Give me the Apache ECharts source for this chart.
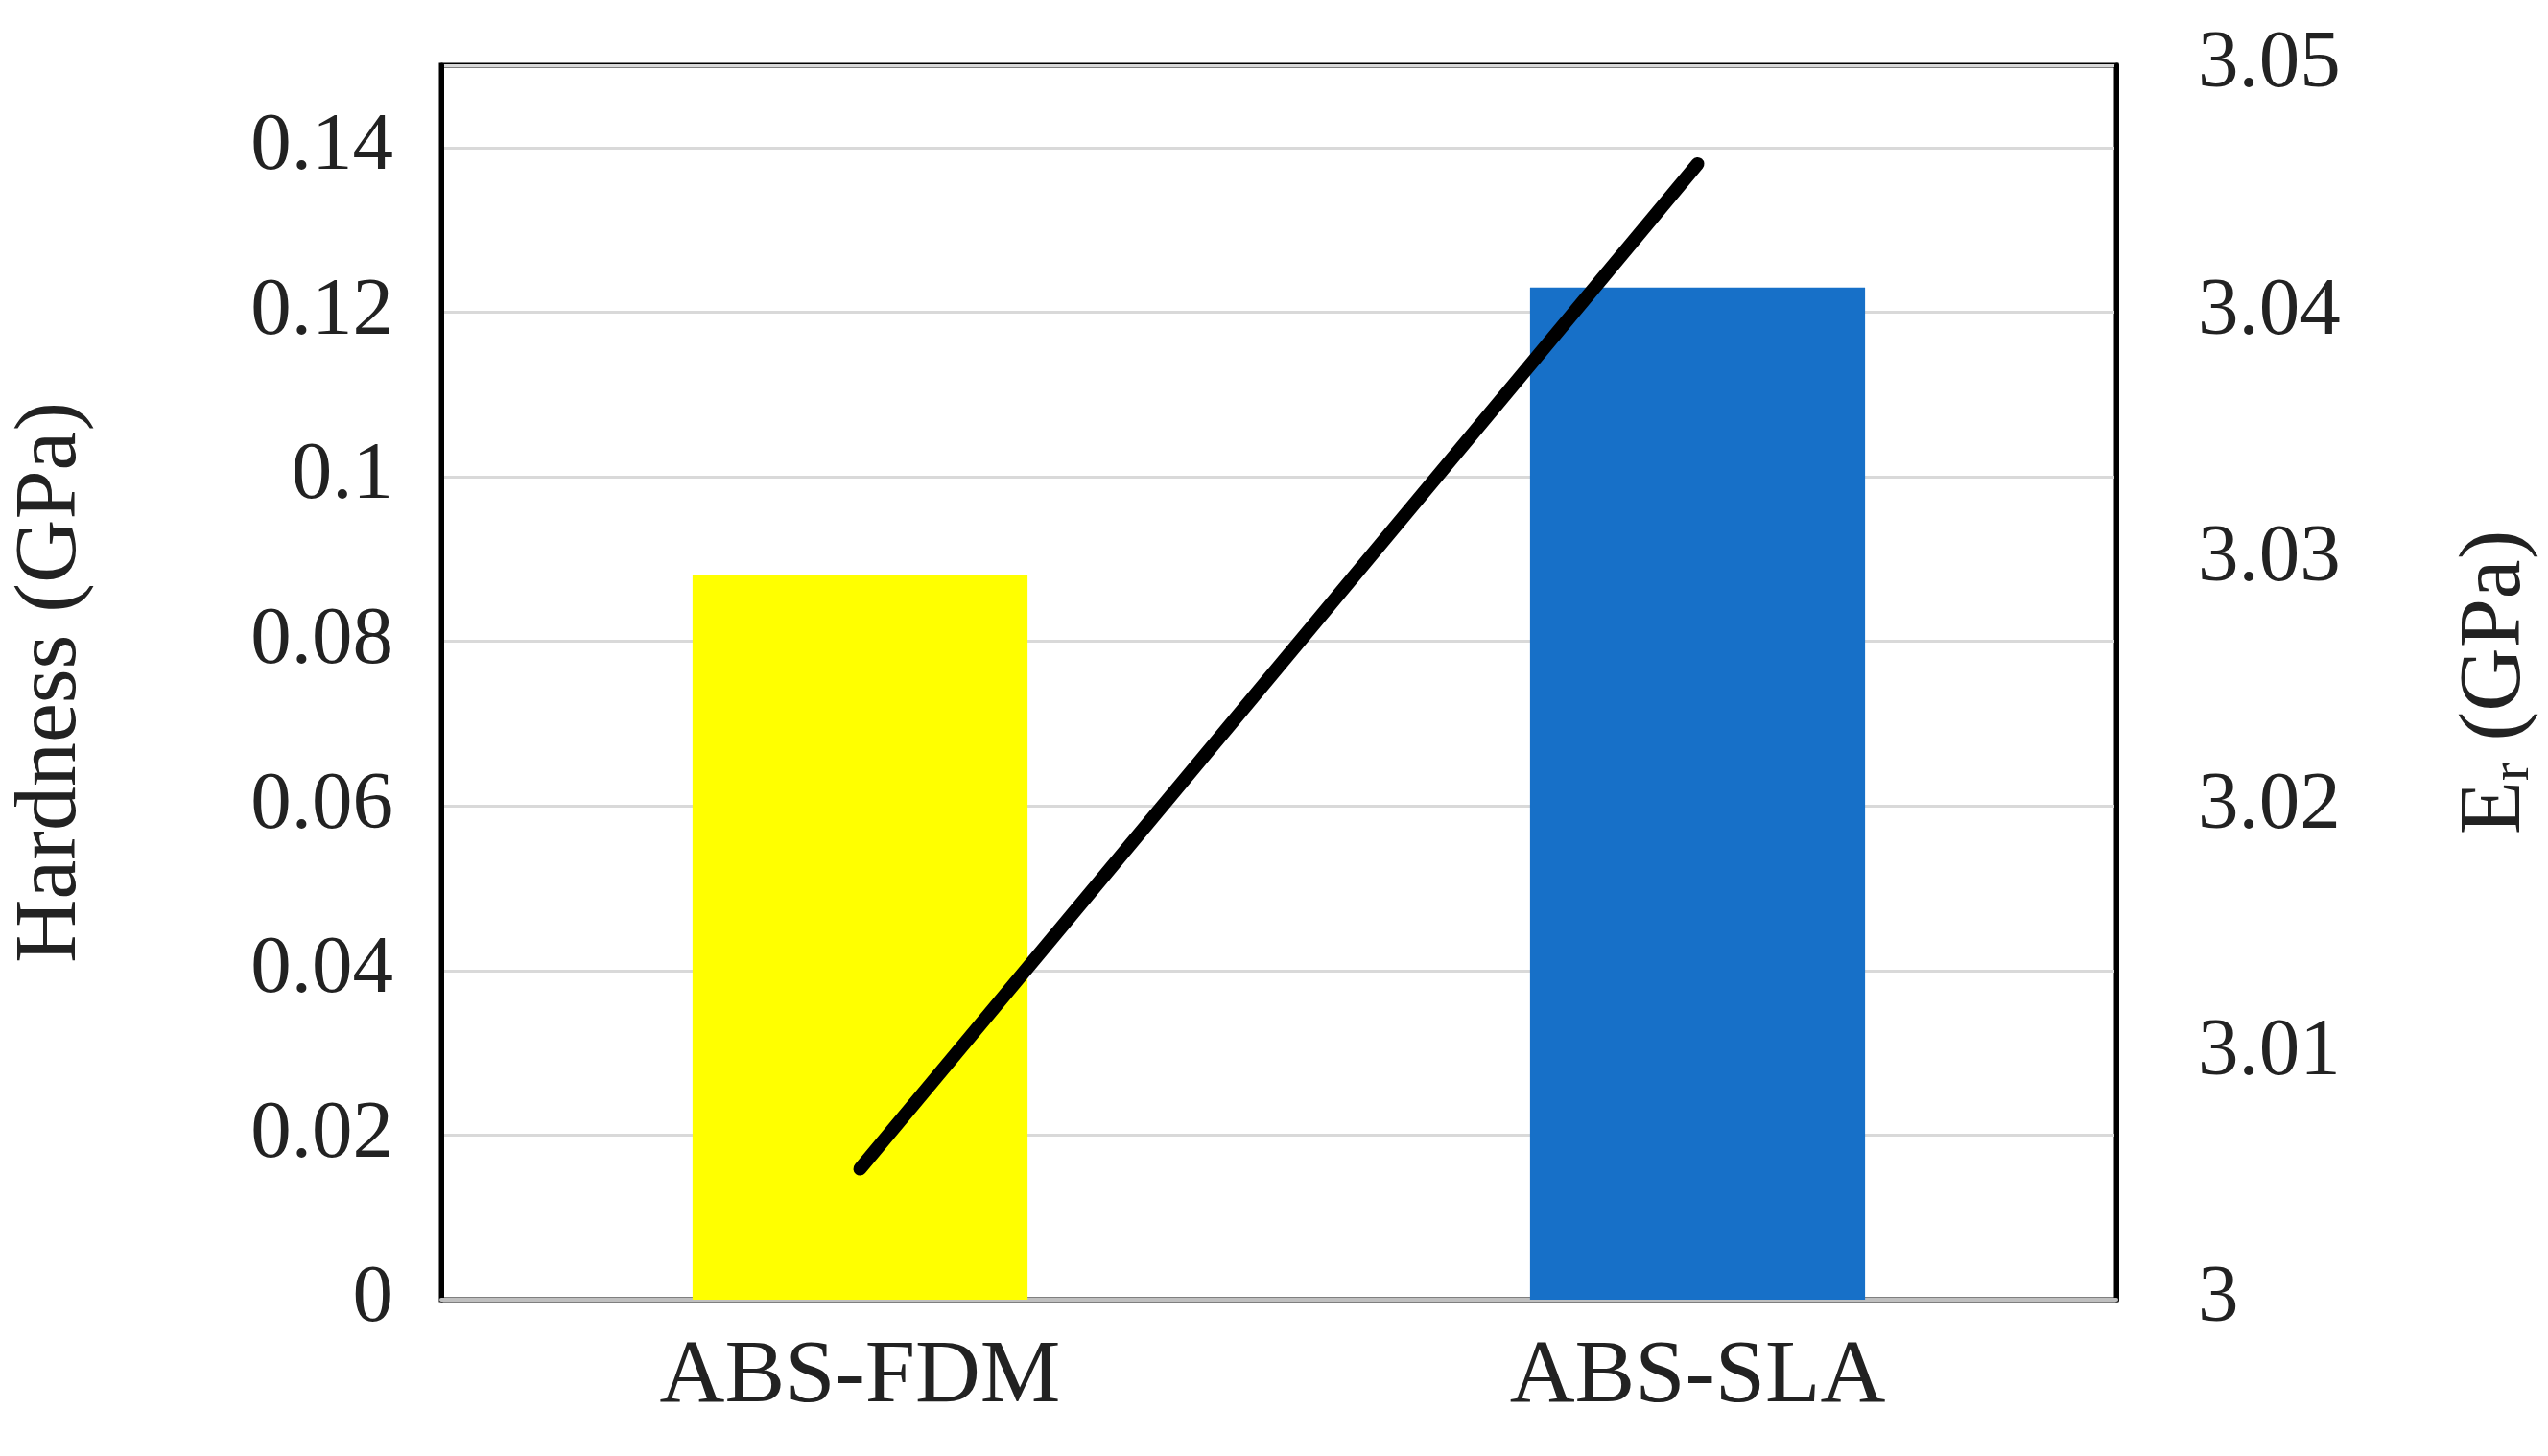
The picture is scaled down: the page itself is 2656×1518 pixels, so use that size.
<!DOCTYPE html>
<html lang="en">
<head>
 <meta charset="UTF-8">
 <title>Hardness and Er</title>
 <style>html,body{margin:0;padding:0;background:#fff;}</style>
</head>
<body>
 <div id="main" style="width:2656px;height:1518px;"></div>
 <script src="https://cdn.jsdelivr.net/npm/echarts@6/dist/echarts.min.js"></script>
 <script type="text/javascript">
var categories = ['ABS-FDM', 'ABS-SLA'];
var hardness = [0.088, 0.123];
var modulus = [3.0053, 3.046];

var font = 'Liberation Serif';
var myChart = echarts.init(document.getElementById('main'));

myChart.setOption({
    backgroundColor: '#fff',
    animation: false,
    grid: {
        left: 443, right: 413, top: 68, bottom: 163,
        show: true, borderColor: '#000', borderWidth: 5
    },
    xAxis: {
        type: 'category',
        data: categories,
        axisLine: { lineStyle: { color: '#bfbfbf', width: 4 } },
        axisTick: { show: false },
        axisLabel: { fontFamily: font, fontSize: 94, color: '#222', margin: 34 }
    },
    yAxis: [{
        type: 'value',
        min: 0, max: 0.15, interval: 0.02,
        name: 'Hardness (GPa)',
        nameLocation: 'middle',
        nameGap: 360,
        nameTextStyle: { fontFamily: font, fontSize: 92, color: '#222' },
        axisLine: { show: true, lineStyle: { color: '#000', width: 5 } },
        axisTick: { show: false },
        axisLabel: {
            fontFamily: font, fontSize: 85, color: '#222', margin: 50,
            showMaxLabel: false,
            formatter: function (v) { return v > 0.145 ? '' : String(+v.toFixed(2)); }
        },
        splitLine: { lineStyle: { color: '#d9d9d9', width: 3 } }
    }, {
        type: 'value',
        min: 3, max: 3.05, interval: 0.01,
        name: 'E{s|r} (GPa)',
        nameLocation: 'middle',
        nameGap: 350,
        nameRotate: 90,
        nameTextStyle: {
            fontFamily: font, fontSize: 92, color: '#222',
            rich: { s: { fontFamily: font, fontSize: 56, color: '#222', verticalAlign: 'bottom' } }
        },
        axisLine: { show: true, lineStyle: { color: '#000', width: 5 } },
        axisTick: { show: false },
        axisLabel: {
            fontFamily: font, fontSize: 85, color: '#222', margin: 85,
            formatter: function (v) { return String(+v.toFixed(2)); }
        },
        splitLine: { show: false }
    }],
    series: [{
        type: 'bar',
        data: hardness,
        barWidth: '40%',
        itemStyle: {
            color: function (p) { return ['#ffff00', '#1770c8'][p.dataIndex]; }
        }
    }, {
        type: 'line',
        yAxisIndex: 1,
        data: modulus,
        symbol: 'none',
        lineStyle: { color: '#000', width: 14, cap: 'round' }
    }]
});
 </script>
</body>
</html>
